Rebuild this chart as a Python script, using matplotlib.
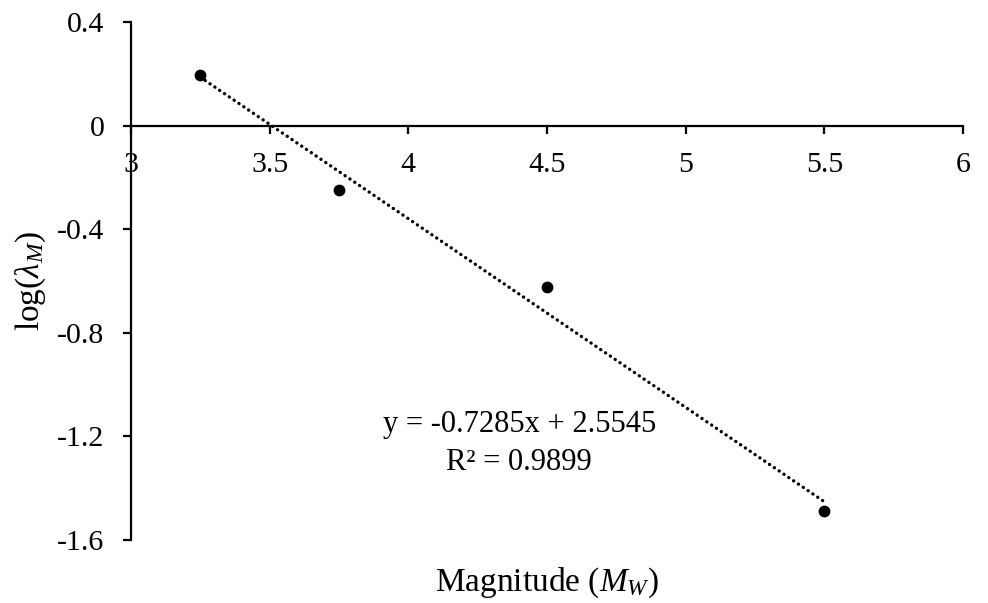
import numpy as np
import matplotlib
matplotlib.use('Agg')
import matplotlib.pyplot as plt

# data
magnitude = [3.25, 3.75, 4.5, 5.5]
log_lambda = [0.197, -0.247, -0.625, -1.49]
slope = -0.7285
intercept = 2.5545
r_squared = 0.9899
x_ticks = [3, 3.5, 4, 4.5, 5, 5.5, 6]
y_ticks = [-1.6, -1.2, -0.8, -0.4, 0, 0.4]

plt.rcParams['font.family'] = ['Liberation Serif', 'DejaVu Serif']
plt.rcParams['mathtext.fontset'] = 'custom'
plt.rcParams['mathtext.rm'] = 'Liberation Serif'
plt.rcParams['mathtext.it'] = 'Liberation Serif:italic'

fig = plt.figure(figsize=(9.88, 6.03), dpi=100)
ax = fig.add_axes([0.1326, 0.1045, 0.8421, 0.859])

# trendline (dotted, round dots)
fit_x = np.array([magnitude[0], magnitude[-1]])
ax.plot(fit_x, slope * fit_x + intercept, color='black', linestyle=(0, (0.05, 1.7)),
        linewidth=2.4, dash_capstyle='round', zorder=2)
ax.scatter(magnitude, log_lambda, s=56, color='black', zorder=3)

ax.set_xlim(3, 6)
ax.set_ylim(-1.6, 0.4)
ax.set_xticks(x_ticks)
ax.set_xticklabels([f'{t:g}' for t in x_ticks])
ax.set_yticks(y_ticks)
ax.set_yticklabels([f'{t:g}' for t in y_ticks])

ax.spines['top'].set_visible(False)
ax.spines['right'].set_visible(False)
ax.spines['bottom'].set_position(('data', 0))
for s in ['left', 'bottom']:
    ax.spines[s].set_linewidth(1.6)

ax.tick_params(axis='x', direction='out', length=6, width=1.6, labelsize=21.5, pad=13)
ax.tick_params(axis='y', direction='out', length=6, width=1.6, labelsize=21.5, pad=13)

ax.set_xlabel(r'Magnitude ($M_W$)', fontsize=24)
ax.set_ylabel(r'log($\lambda_M$)', fontsize=24)
ax.xaxis.set_label_coords(0.5, -0.05)
ax.yaxis.set_label_coords(-0.10, 0.5)

ax.text(4.40, -1.226, f'y = {slope}x + {intercept}\nR² = {r_squared}',
        ha='center', va='center', fontsize=22, linespacing=1.4)

fig.savefig('out.png', dpi=100)
